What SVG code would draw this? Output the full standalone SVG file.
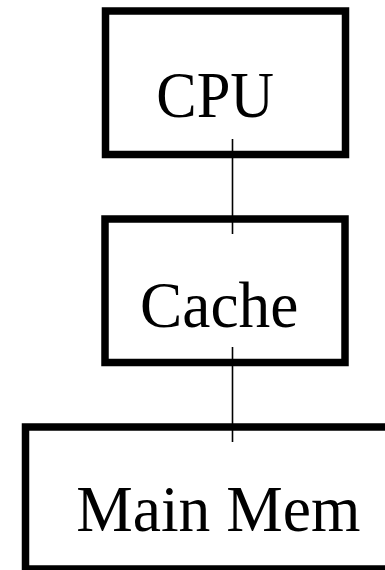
<svg xmlns="http://www.w3.org/2000/svg" width="385" height="570" viewBox="0 0 385 570">
<style>
.box{fill:none;stroke:#000;stroke-width:7.5}
.lbl{font-family:"Liberation Serif","Times New Roman",serif;font-size:66px;fill:#000}
.conn{stroke:#000;stroke-width:1.6;fill:none}
</style>
<rect width="385" height="570" fill="#fff"/>
<g id="cpu">
<rect class="box" x="105.5" y="11" width="240" height="143.5"/>
<text class="lbl" x="156.3" y="117" textLength="117.7" lengthAdjust="spacingAndGlyphs">CPU</text>
</g>
<g id="cache">
<rect class="box" x="105" y="219" width="240" height="143.5"/>
<text class="lbl" x="140" y="327" textLength="158.3" lengthAdjust="spacingAndGlyphs">Cache</text>
</g>
<g id="mainmem">
<rect class="box" x="25.5" y="427" width="400" height="142"/>
<text class="lbl" x="76.2" y="531" textLength="284.3" lengthAdjust="spacingAndGlyphs">Main Mem</text>
</g>
<g id="connectors">
<line class="conn" x1="232.5" y1="139" x2="232.5" y2="234"/>
<line class="conn" x1="232.5" y1="347" x2="232.5" y2="442"/>
</g>
</svg>
